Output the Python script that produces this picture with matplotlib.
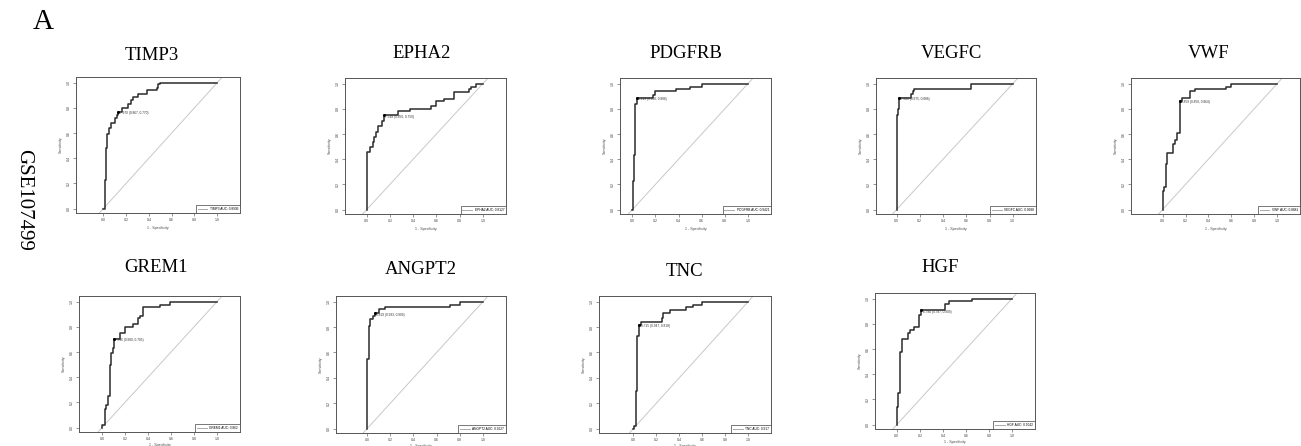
import matplotlib
matplotlib.use("Agg")
import matplotlib.pyplot as plt

W, H = 1301, 446

genes = ["TIMP3", "EPHA2", "PDGFRB", "VEGFC", "VWF", "GREM1", "ANGPT2", "TNC", "HGF"]
auc_labels = ["0.8936", "0.8127", "0.9421", "0.9688", "0.8881", "0.862", "0.9627", "0.917", "0.9042"]

# ROC step corners: 1 - specificity (fpr) and sensitivity (tpr)
timp3_fpr = [0.0, 0.014, 0.026, 0.035, 0.052, 0.07, 0.10, 0.12, 0.133, 0.165, 0.22, 0.24, 0.26, 0.30, 0.38, 0.47, 0.48, 0.50, 1.0]
timp3_tpr = [0.0, 0.23, 0.48, 0.59, 0.64, 0.68, 0.72, 0.74, 0.77, 0.80, 0.83, 0.86, 0.89, 0.91, 0.94, 0.96, 0.99, 1.0, 1.0]
epha2_fpr = [0.0, 0.006, 0.03, 0.05, 0.065, 0.08, 0.10, 0.13, 0.15, 0.27, 0.37, 0.55, 0.60, 0.67, 0.75, 0.88, 0.895, 0.94, 1.0]
epha2_tpr = [0.0, 0.455, 0.50, 0.54, 0.58, 0.62, 0.66, 0.70, 0.75, 0.78, 0.80, 0.82, 0.86, 0.88, 0.93, 0.96, 0.975, 1.0, 1.0]
pdgfrb_fpr = [0.0, 0.003, 0.017, 0.026, 0.04, 0.18, 0.20, 0.38, 0.50, 0.60, 1.0]
pdgfrb_tpr = [0.0, 0.23, 0.43, 0.84, 0.888, 0.91, 0.94, 0.955, 0.975, 1.0, 1.0]
vegfc_fpr = [0.0, 0.003, 0.014, 0.025, 0.12, 0.14, 0.15, 0.64, 1.0]
vegfc_tpr = [0.0, 0.75, 0.80, 0.888, 0.92, 0.94, 0.955, 1.0, 1.0]
vwf_fpr = [0.0, 0.0, 0.012, 0.026, 0.038, 0.09, 0.11, 0.13, 0.15, 0.17, 0.24, 0.28, 0.555, 0.60, 1.0]
vwf_tpr = [0.0, 0.15, 0.18, 0.36, 0.45, 0.52, 0.55, 0.61, 0.864, 0.885, 0.94, 0.955, 0.97, 1.0, 1.0]
grem1_fpr = [0.0, 0.003, 0.026, 0.038, 0.052, 0.067, 0.075, 0.095, 0.10, 0.155, 0.20, 0.27, 0.31, 0.33, 0.36, 0.50, 0.59, 1.0]
grem1_tpr = [0.0, 0.02, 0.15, 0.18, 0.25, 0.50, 0.59, 0.63, 0.705, 0.75, 0.80, 0.82, 0.87, 0.89, 0.955, 0.975, 1.0, 1.0]
angpt2_fpr = [0.0, 0.0, 0.012, 0.023, 0.052, 0.067, 0.10, 0.15, 0.72, 0.80, 1.0]
angpt2_tpr = [0.0, 0.55, 0.81, 0.86, 0.89, 0.909, 0.94, 0.96, 0.975, 1.0, 1.0]
tnc_fpr = [0.0, 0.006, 0.02, 0.035, 0.045, 0.053, 0.07, 0.25, 0.26, 0.32, 0.46, 0.52, 0.60, 1.0]
tnc_tpr = [0.0, 0.02, 0.30, 0.73, 0.75, 0.818, 0.84, 0.87, 0.91, 0.935, 0.955, 0.975, 1.0, 1.0]
hgf_fpr = [0.0, 0.0, 0.014, 0.029, 0.043, 0.095, 0.118, 0.145, 0.19, 0.213, 0.42, 0.455, 0.655, 1.0]
hgf_tpr = [0.0, 0.14, 0.25, 0.58, 0.68, 0.73, 0.75, 0.775, 0.87, 0.909, 0.955, 0.98, 1.0, 1.0]

# best threshold: cutoff, specificity, sensitivity
cutoffs = ["7.970", "7.548", "9.413", "7.320", "9.859", "7.796", "8.819", "8.715", "6.794"]
best_spec = [0.867, 0.850, 0.960, 0.975, 0.850, 0.900, 0.933, 0.947, 0.787]
best_sens = [0.770, 0.750, 0.888, 0.888, 0.864, 0.705, 0.909, 0.818, 0.909]

roc_fpr = [timp3_fpr, epha2_fpr, pdgfrb_fpr, vegfc_fpr, vwf_fpr, grem1_fpr, angpt2_fpr, tnc_fpr, hgf_fpr]
roc_tpr = [timp3_tpr, epha2_tpr, pdgfrb_tpr, vegfc_tpr, vwf_tpr, grem1_tpr, angpt2_tpr, tnc_tpr, hgf_tpr]

# layout in pixels: box (left, right, top, bottom), left x-limit, title centre
boxes = [
    (76, 240, 77, 213), (345, 506, 78, 214), (620, 771, 78, 214), (876, 1036, 78, 214), (1131, 1300, 78, 214),
    (79, 240, 296, 432), (336, 506, 296, 433), (599, 771, 296, 433), (875, 1035, 293, 429),
]
x_lo = [-0.24, -0.187, -0.107, -0.177, -0.276, -0.2, -0.27, -0.3, -0.19]
title_xy = [(152, 55), (422, 53), (686, 53), (951, 53), (1209, 54), (156, 267), (421, 270), (684, 272), (940, 267)]

SERIF = "Liberation Serif"
SANS = "Liberation Sans"

fig = plt.figure(figsize=(W / 100, H / 100), dpi=100)

for i, gene in enumerate(genes):
    left, right, top, bottom = boxes[i]
    ax = fig.add_axes([left / W, 1 - bottom / H, (right - left) / W, (bottom - top) / H])
    ax.set_xlim(x_lo[i], 1.2)
    ax.set_ylim(-0.035, 1.045)

    ax.plot([-0.5, 1.5], [-0.5, 1.5], color="#c8c8c8", lw=0.7, zorder=1)
    ax.step(roc_fpr[i], roc_tpr[i], where="post", color="#2b2b2b", lw=1.1, zorder=2)

    px = 1 - best_spec[i]
    py = best_sens[i]
    ax.plot([px], [py], marker="o", ms=1.2, color="black", zorder=3)
    ax.text(px + 0.01, py - 0.012, f"{cutoffs[i]} ({best_spec[i]:.3f}, {py:.3f})",
            fontsize=2.3, family=SANS, va="center", ha="left", color="#333333")

    ax.plot([], [], color="#aaaaaa", lw=0.7, label=f"{gene} AUC: {auc_labels[i]}")
    leg = ax.legend(loc="lower right", borderaxespad=0, handlelength=3,
                    fancybox=False, framealpha=1, borderpad=0.6, prop={"family": SANS, "size": 2.3})
    leg.get_frame().set_edgecolor("#444444")
    leg.get_frame().set_linewidth(0.5)

    ax.set_xticks([0.0, 0.2, 0.4, 0.6, 0.8, 1.0])
    ax.set_yticks([0.0, 0.2, 0.4, 0.6, 0.8, 1.0])
    ax.set_xticklabels([f"{t:.1f}" for t in ax.get_xticks()], fontsize=2.6, family=SANS, color="#444444")
    ax.set_yticklabels([f"{t:.1f}" for t in ax.get_yticks()], fontsize=2.6, family=SANS,
                       rotation=90, va="center", color="#444444")
    ax.tick_params(length=2, width=0.4, pad=1.5, colors="#444444")
    pad = 3 if i < 5 else 1.2
    ax.set_xlabel("1 - Specificity", fontsize=2.6, family=SANS, labelpad=pad, color="#444444")
    ax.set_ylabel("Sensitivity", fontsize=2.6, family=SANS, labelpad=3, color="#444444")
    for spine in ax.spines.values():
        spine.set_color("#555555")
        spine.set_linewidth(0.7)

    tx, ty = title_xy[i]
    fig.text(tx / W, 1 - ty / H, gene, fontsize=13.5, family=SERIF, ha="center", va="center")

fig.text(43 / W, 1 - 22 / H, "A", fontsize=21, family=SERIF, ha="center", va="center")
fig.text(24 / W, 1 - 200 / H, "GSE107499", fontsize=15, family=SERIF, ha="center", va="center", rotation=270)

fig.savefig("out.png", dpi=100)
